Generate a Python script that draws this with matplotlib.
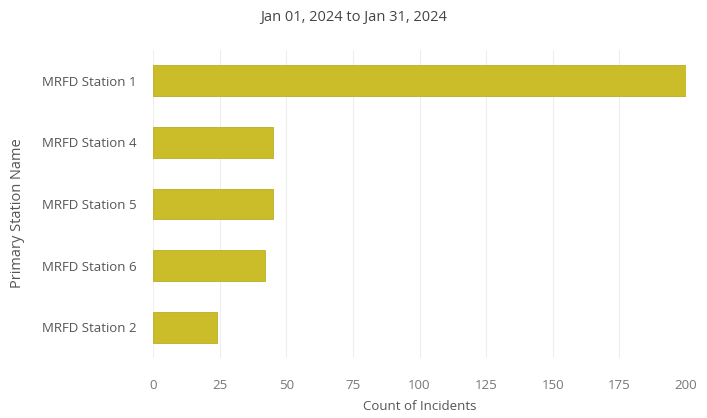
import matplotlib
matplotlib.use("Agg")
import matplotlib.pyplot as plt

stations = ["MRFD Station 1", "MRFD Station 4", "MRFD Station 5", "MRFD Station 6", "MRFD Station 2"]
counts = [200, 45, 45, 42, 24]
xticks = [0, 25, 50, 75, 100, 125, 150, 175, 200]

plt.rcParams['font.family'] = ['Open Sans', 'DejaVu Sans']

fig = plt.figure(figsize=(7.07, 4.18), dpi=100)
ax = fig.add_axes([153/707, 1-358/418, (686-153)/707, (358-50)/418])

y = list(range(len(stations)))
ax.barh(y, counts, height=0.5, color="#CBBC2A", edgecolor="#BCAD22", linewidth=0.6, zorder=3)
ax.set_yticks(y)
ax.set_yticklabels(stations, fontsize=9.5, color="#555555")
ax.set_ylim(4.5, -0.5)
ax.set_xlim(0, 200)
ax.set_xticks(xticks)
ax.set_xticklabels([str(t) for t in xticks], fontsize=9.5, color="#777777")
ax.tick_params(axis='both', length=0)
ax.tick_params(axis='y', pad=12)
ax.tick_params(axis='x', pad=15)
ax.grid(axis='x', color="#EEEEEE", linewidth=0.8, zorder=0)
for s in ax.spines.values():
    s.set_visible(False)

ax.set_xlabel("Count of Incidents", fontsize=9.5, color="#555555", labelpad=6)
fig.text(18/707, 1-213/418, "Primary Station Name", rotation=90, fontsize=10.5,
         color="#555555", ha='center', va='center')
fig.text(354/707, 1-17/418, "Jan 01, 2024 to Jan 31, 2024", fontsize=10.5,
         color="#444444", ha='center', va='center')

fig.savefig("out.png", dpi=100)
